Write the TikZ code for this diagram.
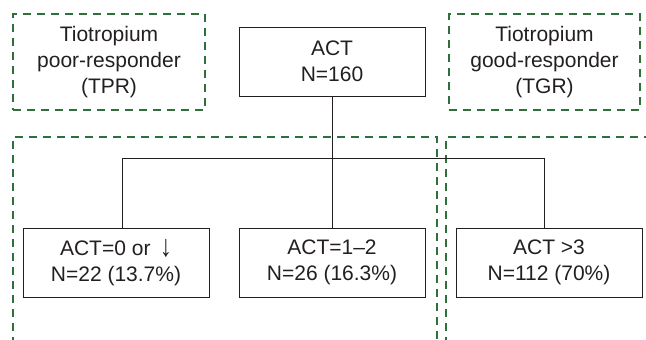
\documentclass[tikz,border=0pt]{standalone}
\usepackage{fontspec}
\setmainfont{Liberation Sans}
\definecolor{dgreen}{RGB}{45,112,58}
\definecolor{ink}{RGB}{35,31,32}
\begin{document}
\begin{tikzpicture}[x=1pt,y=-1pt,
  txt/.style={font=\fontsize{21}{26}\selectfont, align=center, text=ink},
  box/.style={txt, draw=ink, line width=1pt, inner sep=0pt},
  grp/.style={draw=dgreen, line width=2pt, dash pattern=on 8pt off 6pt},
  conn/.style={draw=ink, line width=1pt}]
\useasboundingbox (0,0) rectangle (646,340);
% dashed groups
\node[txt, grp, minimum width=192pt, minimum height=96pt, inner sep=0pt] (tpr) at (109,62) {Tiotropium\\poor-responder\\(TPR)};
\node[txt, grp, minimum width=191pt, minimum height=96pt, inner sep=0pt] (tgr) at (544.5,62) {Tiotropium\\good-responder\\(TGR)};
\coordinate (lb) at (13,345);
\coordinate (lt) at (13,137);
\coordinate (rt) at (437,137);
\coordinate (rb) at (437,345);
\draw[grp] (lb) -- (lt) -- (rt) -- (rb);
\coordinate (gb) at (446,345);
\coordinate (gt) at (446,137);
\coordinate (ge) at (650,137);
\draw[grp] (gb) -- (gt) -- (ge);
% boxes
\node[box, minimum width=186pt, minimum height=69pt] (act) at (332,61.5) {ACT\\N=160};
\node[box, minimum width=186pt, minimum height=69pt] (b1) at (116,262.5) {ACT=0 or \,\raisebox{-1pt}{\scalebox{1.15}[1.45]{↓}}\\N=22 (13.7\%)};
\node[box, minimum width=186pt, minimum height=69pt] (b2) at (332,262.5) {ACT=1–2\\N=26 (16.3\%)};
\node[box, minimum width=186pt, minimum height=69pt] (b3) at (549,262.5) {ACT >3\\N=112 (70\%)};
% connectors
\coordinate (hl) at (0,158);
\draw[conn] (act.south) -- (b2.north);
\draw[conn] ([xshift=6pt]b1.north) -- ([xshift=6pt]b1.north |- hl) -- ([xshift=-5pt]b3.north |- hl) -- ([xshift=-5pt]b3.north);
\end{tikzpicture}
\end{document}
